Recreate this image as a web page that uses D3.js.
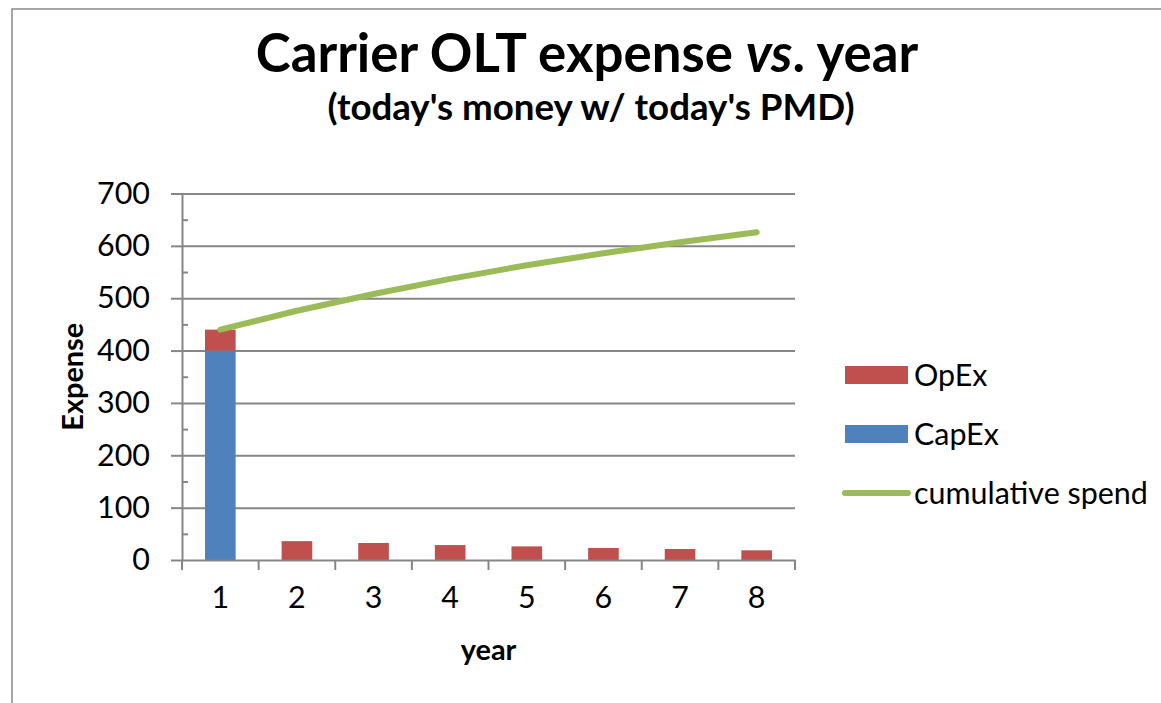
<!DOCTYPE html>
<html>

<head>
    <meta charset="utf-8">
    <style>
        body {
            margin: 0;
            background: #fff;
        }

        svg {
            display: block;
            font-family: Lato, 'Open Sans', Arial, sans-serif;
        }

        .grid line {
            stroke: #868686;
            stroke-width: 2;
        }

        .grid .domain {
            display: none;
        }

        .axis path,
        .axis line {
            stroke: #868686;
            stroke-width: 2;
        }

        .axis text {
            fill: #000;
        }
    </style>
</head>

<body>
    <svg width="1161" height="703"></svg>
</body>

<script src="https://d3js.org/d3.v7.min.js"></script>

<script>
    // data
    let years = ["1", "2", "3", "4", "5", "6", "7", "8"];
    let capex = [400, 0, 0, 0, 0, 0, 0, 0];
    let opex = [40, 36, 32.5, 28.5, 26, 23, 21, 18.5];
    let cumulative = [440, 476, 508, 537, 563, 586, 607, 626];
    let yTicks = [0, 100, 200, 300, 400, 500, 600, 700];
    let yMinorTicks = [50, 150, 250, 350, 450, 550, 650];
    let seriesNames = ["OpEx", "CapEx", "cumulative spend"];

    let red = "#C0504D";
    let blue = "#4F81BD";
    let green = "#9BBB59";

    let svg = d3.select("svg");

    let margin = { top: 193.5, right: 366, bottom: 143, left: 182 };
    let width = 1161;
    let height = 703;

    // pick a font size so a string comes out at a given width
    function fitSize(str, weight, target) {
        let t = svg.append("text")
            .style("font-size", "100px")
            .style("font-weight", weight)
            .text(str);
        let w = t.node().getComputedTextLength();
        t.remove();
        return 100 * target / w;
    }

    let baseSize = fitSize("cumulative spend", "normal", 234);
    let boldSize = fitSize("Expense", "bold", 108);

    // chart frame (runs off the right and bottom)
    svg.append("rect")
        .attr("x", 12)
        .attr("y", 9)
        .attr("width", 1200)
        .attr("height", 760)
        .style("fill", "#fff")
        .style("stroke", "#888")
        .style("stroke-width", 1.5);

    let x = d3.scaleBand()
        .domain(years)
        .range([margin.left, width - margin.right]);

    let y = d3.scaleLinear()
        .domain([0, 700])
        .range([height - margin.bottom, margin.top]);

    // gridlines
    svg.append("g")
        .attr("class", "grid")
        .attr("transform", `translate(${margin.left},0)`)
        .call(d3.axisLeft(y)
            .tickValues(yTicks.slice(1))
            .tickSize(-(width - margin.right - margin.left))
            .tickFormat(""));

    // bars
    let barW = x.bandwidth() * 0.4;

    svg.append("g")
        .selectAll("rect")
        .data(years)
        .join("rect")
        .attr("x", (d) => x(d) + (x.bandwidth() - barW) / 2)
        .attr("width", barW)
        .attr("y", (d, i) => y(capex[i]))
        .attr("height", (d, i) => y(0) - y(capex[i]))
        .style("fill", blue);

    svg.append("g")
        .selectAll("rect")
        .data(years)
        .join("rect")
        .attr("x", (d) => x(d) + (x.bandwidth() - barW) / 2)
        .attr("width", barW)
        .attr("y", (d, i) => y(capex[i] + opex[i]))
        .attr("height", (d, i) => y(capex[i]) - y(capex[i] + opex[i]))
        .style("fill", red);

    // y axis
    let yAxis = svg.append("g")
        .attr("class", "axis")
        .attr("transform", `translate(${margin.left},0)`)
        .call(d3.axisLeft(y)
            .tickValues(yTicks)
            .tickSize(11)
            .tickSizeOuter(0)
            .tickPadding(21));

    yAxis.selectAll("text")
        .style("font-size", baseSize + "px")
        .style("font-family", "Lato, 'Open Sans', Arial, sans-serif");

    svg.append("g")
        .attr("class", "axis")
        .attr("transform", `translate(${margin.left},0)`)
        .call(d3.axisRight(y)
            .tickValues(yMinorTicks)
            .tickSize(6)
            .tickSizeOuter(0)
            .tickFormat(""))
        .select(".domain").remove();

    // x axis
    let xAxis = svg.append("g")
        .attr("class", "axis")
        .attr("transform", `translate(0,${y(0)})`)
        .call(d3.axisBottom(x)
            .tickSize(0)
            .tickPadding(26));

    xAxis.selectAll("text")
        .style("font-size", baseSize + "px")
        .style("font-family", "Lato, 'Open Sans', Arial, sans-serif");

    // category separators on the x axis
    let edges = years.map((d) => x(d)).concat([x(years[years.length - 1]) + x.bandwidth()]);
    xAxis.selectAll(".sep")
        .data(edges)
        .join("line")
        .attr("class", "sep")
        .attr("x1", (d) => d)
        .attr("x2", (d) => d)
        .attr("y1", 0)
        .attr("y2", 10);

    // cumulative spend line
    let line = d3.line()
        .x((d, i) => x(years[i]) + x.bandwidth() / 2)
        .y((d) => y(d));

    svg.append("path")
        .attr("d", line(cumulative))
        .style("fill", "none")
        .style("stroke", green)
        .style("stroke-width", 6)
        .style("stroke-linecap", "round")
        .style("stroke-linejoin", "round");

    // titles
    let titleSize = fitSize("Carrier OLT expense vs. year", "bold", 665);
    let title = svg.append("text")
        .attr("x", 587)
        .attr("y", 72)
        .attr("text-anchor", "middle")
        .style("font-size", titleSize + "px")
        .style("font-weight", "bold");
    title.append("tspan").text("Carrier OLT expense ");
    title.append("tspan").style("font-style", "italic").text("vs");
    title.append("tspan").text(". year");

    svg.append("text")
        .attr("x", 591)
        .attr("y", 120)
        .attr("text-anchor", "middle")
        .style("font-size", fitSize("(today's money w/ today's PMD)", "bold", 527) + "px")
        .style("font-weight", "bold")
        .text("(today's money w/ today's PMD)");

    svg.append("text")
        .attr("x", (margin.left + width - margin.right) / 2)
        .attr("y", 660)
        .attr("text-anchor", "middle")
        .style("font-size", boldSize + "px")
        .style("font-weight", "bold")
        .text("year");

    svg.append("text")
        .attr("transform", `translate(83,${(y(0) + y(700)) / 2}) rotate(-90)`)
        .attr("text-anchor", "middle")
        .style("font-size", boldSize + "px")
        .style("font-weight", "bold")
        .text("Expense");

    // legend
    let legendY = [375, 434, 493];
    let legend = svg.append("g");

    legend.append("rect")
        .attr("x", 845).attr("y", legendY[0] - 9)
        .attr("width", 63).attr("height", 18)
        .style("fill", red);

    legend.append("rect")
        .attr("x", 845).attr("y", legendY[1] - 9)
        .attr("width", 63).attr("height", 18)
        .style("fill", blue);

    legend.append("line")
        .attr("x1", 845).attr("x2", 908)
        .attr("y1", legendY[2]).attr("y2", legendY[2])
        .style("stroke", green)
        .style("stroke-width", 6)
        .style("stroke-linecap", "round");

    legend.selectAll("text")
        .data(seriesNames)
        .join("text")
        .attr("x", 914)
        .attr("y", (d, i) => legendY[i])
        .attr("dy", "0.35em")
        .style("font-size", baseSize + "px")
        .text((d) => d);
</script>

</html>
